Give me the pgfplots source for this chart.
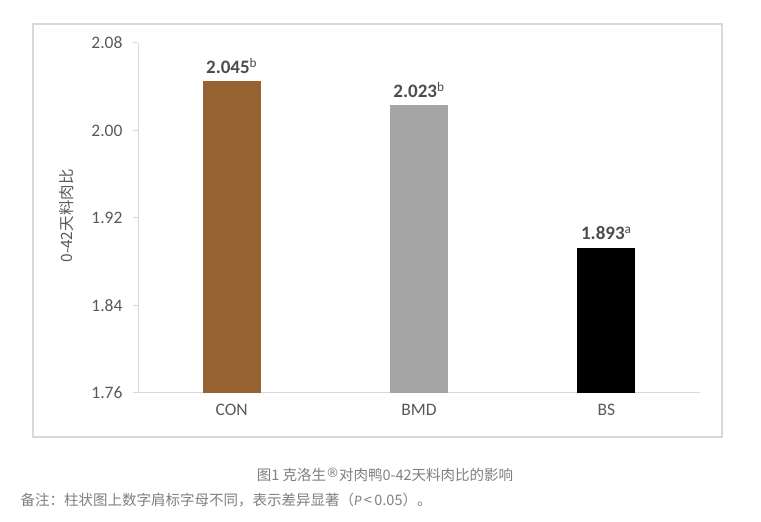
\documentclass[border=0pt]{standalone}
\usepackage{pgfplots}
\pgfplotsset{compat=1.18}
\usepackage{fontspec}
\setmainfont{Carlito}
\newfontfamily\cjk{Noto Sans CJK SC}
\newfontfamily\symfont{DejaVu Sans}

\definecolor{conbrown}{HTML}{976231}
\definecolor{bmdgray}{HTML}{A5A5A5}
\definecolor{txtgray}{HTML}{595959}
\definecolor{linegray}{HTML}{D9D9D9}
\definecolor{capgray}{HTML}{7F7F7F}

\begin{document}
\begin{tikzpicture}[x=1pt,y=1pt]
  % page size and the outer frame of the chart
  \path[use as bounding box] (0,0) rectangle (761,522);
  \draw[linegray, line width=1.2pt] (33,85) rectangle (722,498);

  \begin{axis}[
      at={(138pt,129pt)}, anchor=south west,
      scale only axis,
      width=562pt, height=350pt,
      xmin=-0.5, xmax=2.5,
      ymin=1.76, ymax=2.08,
      ytick={1.76,1.84,1.92,2.00,2.08},
      xtick={0,1,2},
      xticklabels={CON,BMD,BS},
      axis x line=bottom, axis y line=left,
      axis line style={linegray, line width=1pt, -},
      x axis line style={-},
      y axis line style={-},
      major x tick style={draw=none},
      ytick style={linegray, line width=1pt},
      tick align=outside,
      major tick length=5pt,
      /pgf/number format/assume math mode=true,
      tick label style={font=\fontsize{17.5}{19}\selectfont, text=txtgray},
      xticklabel style={yshift=-3pt},
      yticklabel style={xshift=-7pt, /pgf/number format/fixed, /pgf/number format/fixed zerofill, /pgf/number format/precision=2},
      bar width=58pt,
      ybar,
      bar shift=0pt,
      clip=false,
      point meta=explicit symbolic,
      nodes near coords,
      nodes near coords style={font=\fontsize{19}{21}\selectfont, text=txtgray!85!black, anchor=south, yshift=4pt},
    ]
    \addplot[fill=conbrown, draw=none] coordinates {(0,2.045) [\textbf{2.045}\textsuperscript{b}]};
    \addplot[fill=bmdgray, draw=none] coordinates {(1,2.023) [\textbf{2.023}\textsuperscript{b}]};
    \addplot[fill=black, draw=none] coordinates {(2,1.893) [\textbf{1.893}\textsuperscript{a}]};
  \end{axis}

  % y axis title
  \node[rotate=90, text=txtgray, font=\cjk\fontsize{15.5}{17}\selectfont] at (67,306) {0-42天料肉比};

  % caption and note under the chart
  \node[text=capgray, font=\cjk\fontsize{14.5}{16}\selectfont] at (385,47)
    {图1 克洛生\raisebox{0.45ex}{\symfont\fontsize{13}{13}\selectfont ®}对肉鸭0-42天料肉比的影响};
  \node[text=capgray, font=\cjk\fontsize{14.5}{16}\selectfont, anchor=west] at (17,22)
    {备注：柱状图上数字肩标字母不同，表示差异显著（{\rmfamily\itshape P}\,<\,0.05）。};
\end{tikzpicture}
\end{document}
